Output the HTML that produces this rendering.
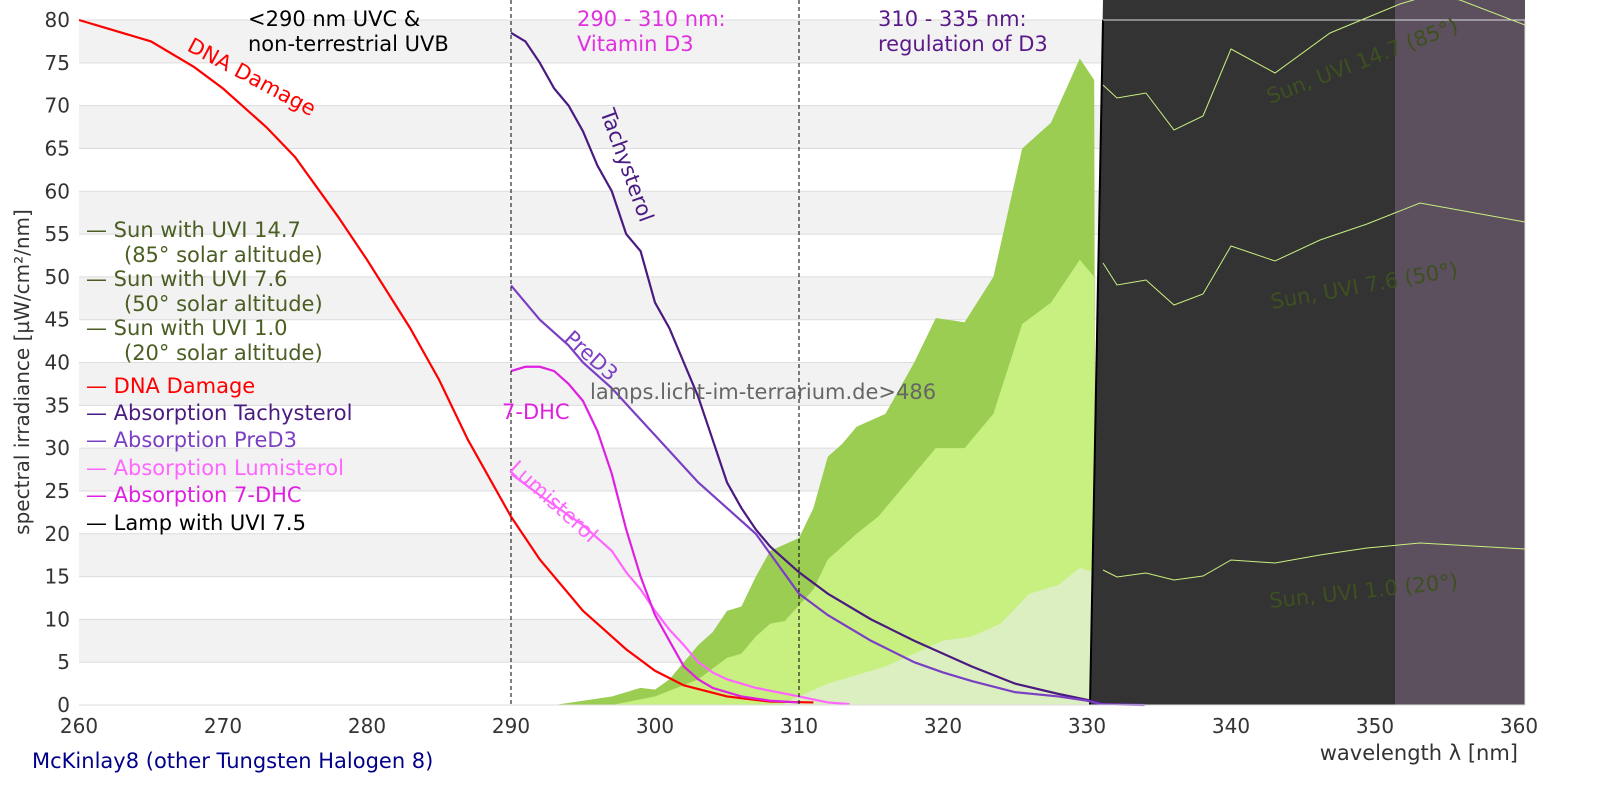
<!DOCTYPE html>
<html><head><meta charset="utf-8"><style>
html,body{margin:0;padding:0;background:#fff;width:1600px;height:800px;overflow:hidden}
svg{display:block;font-family:"DejaVu Sans","Liberation Sans",sans-serif}
</style></head><body>
<svg id="s" width="1600" height="800" viewBox="0 0 1600 800" xmlns="http://www.w3.org/2000/svg">
<g id="bands"></g>
<g id="fills"></g>
<g id="lines"></g>
<!-- dark lamp region -->
<polygon points="1090,705 1103,0 1395,0 1395,705" fill="#333333"/>
<rect x="1395" y="0" width="130" height="705" fill="#5c4f5e"/>
<line x1="1090" y1="705" x2="1103" y2="20" stroke="#000" stroke-width="2"/>
<line x1="1103" y1="20" x2="1525" y2="20" stroke="#ddd" stroke-width="1"/>
<line x1="1525" y1="20" x2="1525" y2="705" stroke="#ddd" stroke-width="1"/>
<g fill="none" stroke="#c8f080" stroke-width="1">
<polyline points="1103,85 1117,98 1146,93 1174,130 1203,116 1231,49 1275,73 1330,33 1400,4 1430,-5 1460,0 1525,25"/>
<polyline points="1103,263 1117,285 1146,280 1174,305 1203,294 1231,246 1275,261 1320,240 1367,224 1420,203 1525,222"/>
<polyline points="1103,570 1117,577 1146,573 1174,580 1203,576 1231,560 1275,563 1320,555 1367,548 1420,543 1525,549"/>
</g>
<g fill="#3d5020" font-size="21">
<text transform="translate(1270,104) rotate(-21)">Sun, UVI 14.7 (85°)</text>
<text transform="translate(1272,309) rotate(-10)">Sun, UVI 7.6 (50°)</text>
<text transform="translate(1270,608) rotate(-6)">Sun, UVI 1.0 (20°)</text>
</g>
<g id="curves" fill="none" stroke-width="2.2"></g>
<!-- dashed lines -->
<line x1="511" y1="0" x2="511" y2="705" stroke="#000" stroke-width="1" stroke-dasharray="4,3"/>
<line x1="799" y1="0" x2="799" y2="705" stroke="#000" stroke-width="1" stroke-dasharray="4,3"/>
<line x1="79" y1="705" x2="1525" y2="705" stroke="#ddd" stroke-width="1"/>
<!-- region labels -->
<g font-size="21">
<text x="248" y="26" fill="#000">&lt;290 nm UVC &amp;</text>
<text x="248" y="51" fill="#000">non-terrestrial UVB</text>
<text x="577" y="26" fill="#e030e0">290 - 310 nm:</text>
<text x="577" y="51" fill="#e030e0">Vitamin D3</text>
<text x="878" y="26" fill="#5a1a8a">310 - 335 nm:</text>
<text x="878" y="51" fill="#5a1a8a">regulation of D3</text>
</g>
<!-- curve labels -->
<g font-size="21">
<text transform="translate(186,50) rotate(28)" fill="#ff0000">DNA Damage</text>
<text transform="translate(600,112) rotate(70)" fill="#4b1a80">Tachysterol</text>
<text transform="translate(563,340) rotate(42)" fill="#7b3fc4">PreD3</text>
<text x="502" y="419" fill="#e020e0">7-DHC</text>
<text transform="translate(508,470) rotate(42)" fill="#ff66ff">Lumisterol</text>
<text x="590" y="399" fill="#666">lamps.licht-im-terrarium.de&gt;486</text>
</g>
<!-- legend -->
<g font-size="21">
<text x="86" y="237" fill="#4a5e23">— Sun with UVI 14.7</text>
<text x="124" y="262" fill="#4a5e23">(85° solar altitude)</text>
<text x="86" y="286" fill="#4a5e23">— Sun with UVI 7.6</text>
<text x="124" y="311" fill="#4a5e23">(50° solar altitude)</text>
<text x="86" y="335" fill="#4a5e23">— Sun with UVI 1.0</text>
<text x="124" y="360" fill="#4a5e23">(20° solar altitude)</text>
<text x="86" y="393" fill="#ff0000">— DNA Damage</text>
<text x="86" y="420" fill="#4b1a80">— Absorption Tachysterol</text>
<text x="86" y="447" fill="#7b3fc4">— Absorption PreD3</text>
<text x="86" y="475" fill="#ff66ff">— Absorption Lumisterol</text>
<text x="86" y="502" fill="#e020e0">— Absorption 7-DHC</text>
<text x="86" y="530" fill="#000">— Lamp with UVI 7.5</text>
</g>
<g id="ticks" font-size="20" fill="#333"></g>
<text transform="translate(29,372) rotate(-90)" text-anchor="middle" font-size="20" fill="#333">spectral irradiance [µW/cm²/nm]</text>
<text x="1518" y="760" text-anchor="end" font-size="21" fill="#333">wavelength λ [nm]</text>
<text x="32" y="768" font-size="21" fill="#00008b">McKinlay8 (other Tungsten Halogen 8)</text>
</svg>
<script>
const NS="http://www.w3.org/2000/svg";
const X=n=>79+(n-260)*14.4, Y=v=>705-8.5625*v;
function el(p,t,a,txt){const e=document.createElementNS(NS,t);for(const k in a)e.setAttribute(k,a[k]);if(txt!==undefined)e.textContent=txt;document.getElementById(p).appendChild(e);return e;}
for(let v=0;v<80;v+=5){ if((v/5)%2==1) el("bands","rect",{x:79,y:Y(v+5),width:1446,height:8.5625*5,fill:"#f2f2f2"});}
for(let v=5;v<=80;v+=5) el("bands","line",{x1:79,x2:1525,y1:Y(v),y2:Y(v),stroke:"#dcdcdc","stroke-width":1});
for(let v=0;v<=80;v+=5) el("ticks","text",{x:70,y:Y(v)+7,"text-anchor":"end"},String(v));
for(let n=260;n<=360;n+=10) el("ticks","text",{x:X(n),y:733,"text-anchor":"middle"},String(n));
function fill(pts,c){let d=pts.map(p=>X(p[0])+","+Y(p[1])).join(" ");const a=pts[0],b=pts[pts.length-1];d=X(a[0])+","+Y(0)+" "+d+" "+X(b[0])+","+Y(0);el("fills","polygon",{points:d,fill:c});}
fill([[293,0],[297,1],[299,2],[300,1.8],[301,3],[303,7],[304,8.5],[305,11],[306,11.5],[307,15],[308,18],[310,19.5],[311,23],[312,29],[313,30.5],[314,32.5],[316,34],[318,40],[319.5,45.2],[321.5,44.7],[323.5,50],[325.5,65],[327.5,68],[329.5,75.5],[330.5,73],[330.6,0]],"#9acd52");
fill([[297,0],[300,1],[303,3],[305,5.5],[306,6],[307,8],[308,9.5],[309,9.8],[311,13.5],[312,17],[313,18.5],[314,20],[315.5,22],[317.5,26],[319.5,30],[321.5,30],[323.5,34],[325.5,44.5],[327.5,47],[329.5,52],[330.5,50],[330.6,0]],"#c8f080");
fill([[309,0.3],[310,1],[312,2.5],[316,4.5],[318,6],[320,7.5],[322,8],[324,9.5],[326,13],[328,14],[329.5,16],[330.5,15.5],[330.6,0]],"#dcefc0");
function curve(pts,c){el("curves","polyline",{points:pts.map(p=>X(p[0])+","+Y(p[1])).join(" "),stroke:c});}
curve([[260,80],[262,79],[265,77.5],[268,74.5],[270,72],[273,67.5],[275,64],[278,57],[280,52],[283,44],[285,38],[287,31],[290,22],[292,17],[295,11],[298,6.5],[300,4],[302,2.3],[305,1],[308,0.4],[311,0.3]],"#ff0000");
curve([[290,78.5],[291,77.5],[292,75],[293,72],[294,70],[295,67],[296,63],[297,60],[298,55],[299,53],[300,47],[301,44],[302,40],[303,36],[304,31],[305,26],[306,23],[307,20.5],[308,18.5],[310,15.5],[312,13],[315,10],[318,7.5],[320,6],[322,4.5],[325,2.5],[328,1.3],[330,0.6],[331,0.2]],"#4b1a80");
curve([[290,49],[291,47],[292,45],[294,42],[295,40],[297,37],[300,31.5],[303,26],[305,23],[307,20],[310,13],[312,10.5],[315,7.5],[318,5],[320,3.8],[322,2.8],[325,1.5],[328,1],[330,0.5],[331,0.1],[334,0]],"#7b3fc4");
curve([[290,27],[292,24.5],[295,21],[297,18],[298,15.5],[299,13.5],[300,11],[301,8.8],[302,7],[303,5],[304,3.8],[305,3],[307,2],[310,1],[312,0.3],[313.5,0.1]],"#ff66ff");
curve([[290,39],[291,39.5],[292,39.5],[293,39],[294,37.5],[295,35.5],[296,32],[297,27],[298,20.5],[299,15],[300,10.5],[301,7.5],[302,4.5],[303,3],[304,2],[306,1],[308,0.5],[310,0.3]],"#e020e0");
</script>
</body></html>
